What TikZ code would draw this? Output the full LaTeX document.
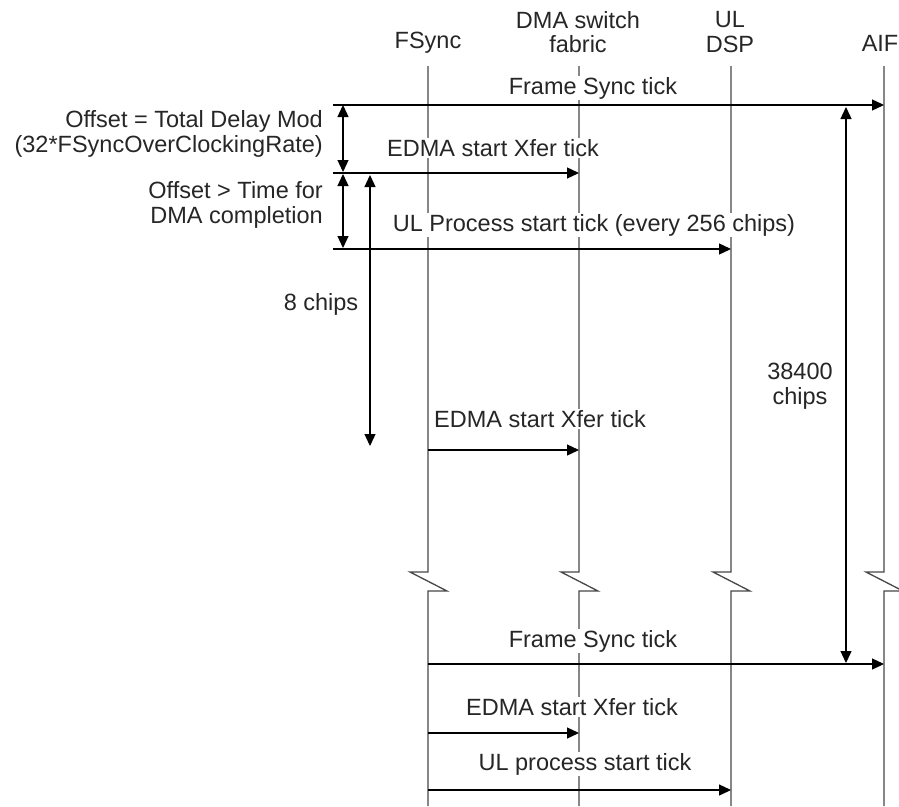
\documentclass[tikz,border=0pt]{standalone}
\usepackage{fontspec}
\setmainfont{Liberation Sans}
\usetikzlibrary{arrows.meta}
\newcommand{\lblfont}{\fontsize{23.5}{24.5}\selectfont}
\tikzset{
  life/.style={line width=1.3pt, draw=black!72},
  msg/.style={line width=1.3pt, draw=black, -{Triangle[length=12pt,width=11pt]}},
  dbl/.style={line width=1.3pt, draw=black, {Triangle[length=12pt,width=11pt]}-{Triangle[length=12pt,width=11pt]}},
  lbl/.style={fill=white, inner sep=1pt, text=black!85, font=\lblfont},
  head/.style={inner sep=0pt, align=center, text=black!85, font=\lblfont},
  side/.style={inner sep=0pt, align=right, anchor=east, text=black!85, font=\lblfont},
  free/.style={inner sep=0pt, align=center, text=black!85, font=\lblfont}
}
\begin{document}
\begin{tikzpicture}[x=1pt,y=-1pt]
\useasboundingbox (0,0) rectangle (899,806);
\clip (0,0) rectangle (899,806);
% lifelines with break marks
\foreach \n/\x in {fs/428, dma/579, ul/731, aif/884} {
  \coordinate (\n-top) at (\x,66);
  \coordinate (\n-b1) at (\x,572);
  \coordinate (\n-b2) at (\x,591);
  \coordinate (\n-bot) at (\x,806);
  \draw[life] (\n-top) -- (\n-b1) -- ++(-18,0) -- ++(37,19) -- (\n-b2) -- (\n-bot);
}
% headers
\node[head] (hfs) at (428,43) {FSync};
\node[head] (hdma) at (578,32) {DMA switch\\fabric};
\node[head] (hul) at (730,32) {UL\\DSP};
\node[head, anchor=east] (haif) at (898.5,43) {AIF};
% message start points
\coordinate (fst1) at (333,105);
\coordinate (ed1) at (333,173);
\coordinate (ulp1) at (333,249);
\coordinate (ed2) at (428,450);
\coordinate (fst2) at (428,664);
\coordinate (ed3) at (428,733);
\coordinate (ulp3) at (428,790);
\draw[msg] (fst1) -- (fst1 -| aif-top);
\draw[msg] (ed1) -- (ed1 -| dma-top);
\draw[msg] (ulp1) -- (ulp1 -| ul-top);
\draw[msg] (ed2) -- (ed2 -| dma-top);
\draw[msg] (fst2) -- (fst2 -| aif-top);
\draw[msg] (ed3) -- (ed3 -| dma-top);
\draw[msg] (ulp3) -- (ulp3 -| ul-top);
% dimension arrows
\coordinate (off1a) at (343,105);
\coordinate (off1b) at (343,172);
\coordinate (off2a) at (343,174);
\coordinate (off2b) at (343,248);
\coordinate (c8a) at (370,175);
\coordinate (c8b) at (370,446);
\coordinate (c384a) at (846,107);
\coordinate (c384b) at (846,663);
\draw[dbl] (off1a) -- (off1b);
\draw[dbl] (off2a) -- (off2b);
\draw[dbl] (c8a) -- (c8b);
\draw[dbl] (c384a) -- (c384b);
% labels
\node[lbl] (tfs1) at (593,88) {Frame Sync tick};
\node[lbl] (ted1) at (493,148) {EDMA start Xfer tick};
\node[lbl] (tul1) at (594,225) {UL Process start tick (every 256 chips)};
\node[lbl] (ted2) at (540,419) {EDMA start Xfer tick};
\node[lbl] (tfs2) at (593,641) {Frame Sync tick};
\node[lbl] (ted3) at (572,707) {EDMA start Xfer tick};
\node[lbl] (tul3) at (585,764) {UL process start tick};
\node[side] (toff1) at (323,134) {Offset = Total Delay Mod\\(32*FSyncOverClockingRate)};
\node[side] (toff2) at (323,205) {Offset > Time for\\DMA completion};
\node[free] (t8) at (321,304) {8 chips};
\node[free] (t384) at (800,386) {38400\\chips};
\end{tikzpicture}
\end{document}
